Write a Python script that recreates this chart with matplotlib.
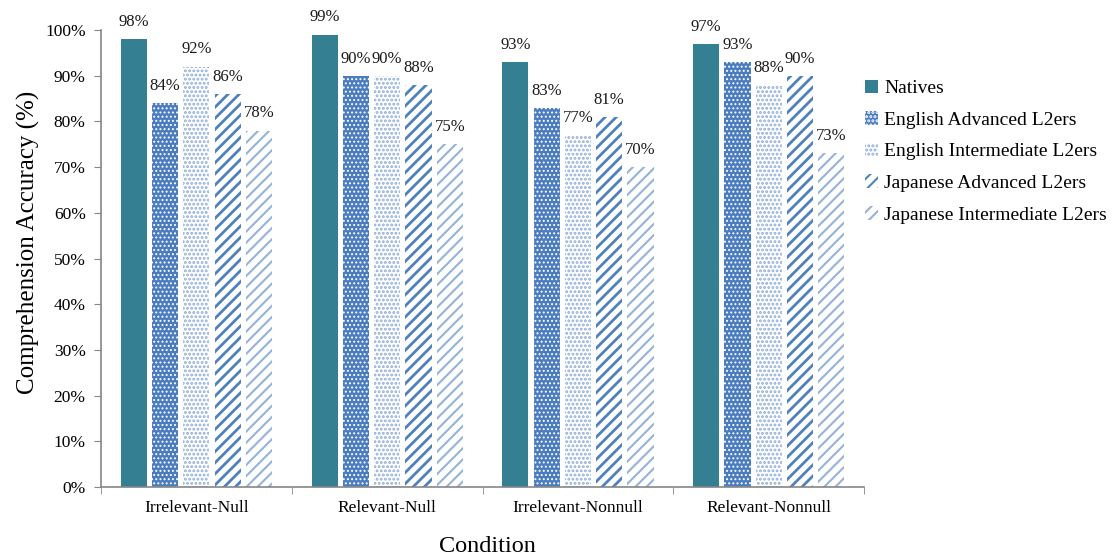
import matplotlib
matplotlib.use("Agg")
import matplotlib.pyplot as plt
import numpy as np

conditions = ["Irrelevant-Null", "Relevant-Null", "Irrelevant-Nonnull", "Relevant-Nonnull"]
series_names = ["Natives", "English Advanced L2ers", "English Intermediate L2ers",
                "Japanese Advanced L2ers", "Japanese Intermediate L2ers"]
natives = [98, 99, 93, 97]
eng_adv = [84, 90, 83, 93]
eng_int = [92, 90, 77, 88]
jap_adv = [86, 88, 81, 90]
jap_int = [78, 75, 70, 73]
values = [natives, eng_adv, eng_int, jap_adv, jap_int]

plt.rcParams['font.family'] = ['Liberation Serif', 'DejaVu Serif']

fig = plt.figure(figsize=(11.15, 5.58), dpi=100)
ax = fig.add_axes([0.0906, 0.1272, 0.6844, 0.8190])

styles = [
    dict(facecolor='#357F93', edgecolor='#357F93', hatch=None, hlw=1.0),
    dict(facecolor='#4A7CBE', edgecolor='#FFFFFF', hatch='....', hlw=0.9),
    dict(facecolor='#FFFFFF', edgecolor='#8EADD8', hatch='....', hlw=1.4),
    dict(facecolor='#FFFFFF', edgecolor='#4F81BD', hatch='///', hlw=2.0),
    dict(facecolor='#FFFFFF', edgecolor='#95B3D7', hatch='///', hlw=1.5),
]

x = np.arange(len(conditions))
step = 0.164
width = 0.137
for i, (name, vals, st) in enumerate(zip(series_names, values, styles)):
    pos = x + (i - 2) * step
    plt.rcParams['hatch.linewidth'] = st['hlw']
    ax.bar(pos, vals, width, color=st['facecolor'], edgecolor=st['edgecolor'],
           hatch=st['hatch'], linewidth=0, label=name)
    for p, v in zip(pos, vals):
        ax.text(p, v + 2.0, f"{v}%", ha='center', va='bottom', fontsize=12, color='#1a1a1a')

ax.set_xlim(-0.5, 3.5)
ax.set_ylim(0, 100)
ax.set_yticks(np.arange(0, 101, 10))
ax.set_yticklabels([f"{t}%" for t in range(0, 101, 10)], fontsize=12.5)
ax.set_xticks(x)
ax.set_xticklabels(conditions, fontsize=12.5)
ax.tick_params(axis='x', length=0, pad=9)
ax.set_xticks(np.arange(-0.5, 3.6, 1), minor=True)
ax.tick_params(axis='x', which='minor', length=5, color='#868686', direction='out')
ax.tick_params(axis='y', length=5, color='#868686', direction='out', pad=6)

for s in ['top', 'right']:
    ax.spines[s].set_visible(False)
for s in ['left', 'bottom']:
    ax.spines[s].set_color('#868686')
    ax.spines[s].set_linewidth(1.2)

fig.text(28 / 1115, 1 - 242 / 558, "Comprehension Accuracy (%)", rotation=90,
         ha='center', va='center', fontsize=18)
fig.text(487 / 1115, 1 - 546 / 558, "Condition", ha='center', va='center', fontsize=17.5)

leg = ax.legend(loc='upper left', bbox_to_anchor=(0.978, 0.93), frameon=False,
                fontsize=14, handlelength=0.7, handleheight=0.7, handletextpad=0.3,
                labelspacing=0.72)

fig.savefig("out.png", dpi=100)
